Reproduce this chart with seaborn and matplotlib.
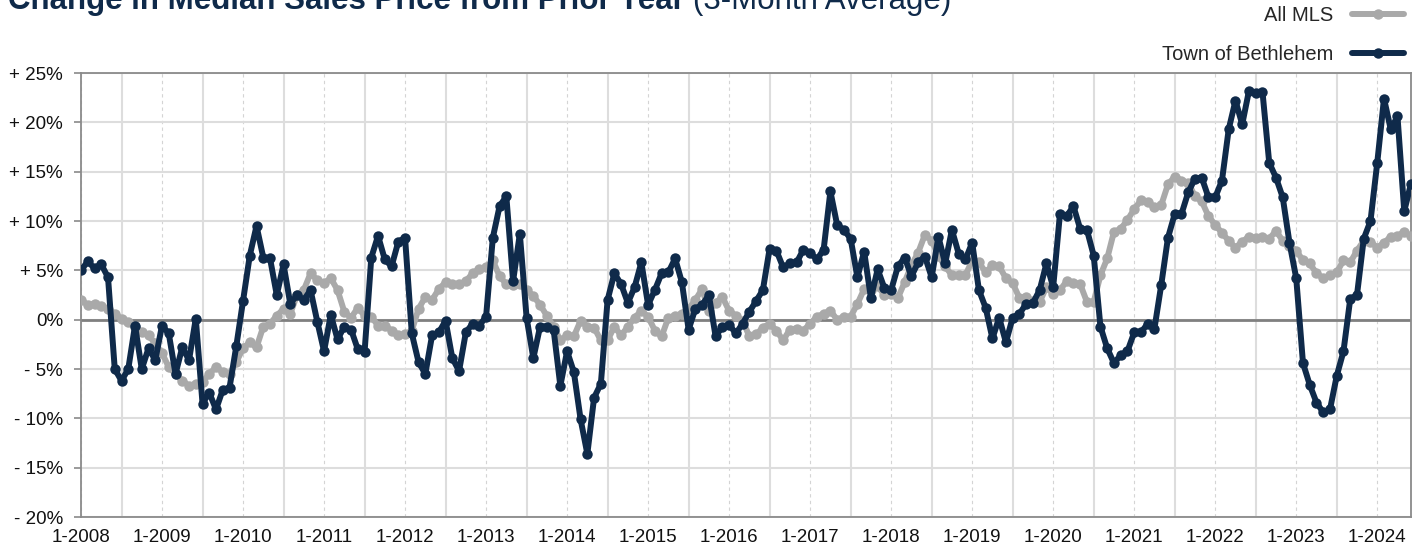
import numpy as np
import pandas as pd
import matplotlib
matplotlib.use("Agg")
import matplotlib.pyplot as plt
import seaborn as sns
from matplotlib.lines import Line2D

# monthly values, 1-2008 .. 6-2024 (3-month average, % change vs prior year)
town_of_bethlehem = [
    5.0, 5.9, 5.2, 5.6, 4.3, -5.0, -6.2, -5.0, -0.6, -5.0, -2.9, -4.1,
    -0.6, -1.4, -5.5, -2.8, -4.1, 0.1, -8.5, -7.4, -9.1, -7.1, -6.9, -2.7,
    1.9, 6.5, 9.5, 6.3, 6.2, 2.5, 5.6, 1.6, 2.5, 2.0, 3.0, -0.2,
    -3.2, 0.5, -2.0, -0.7, -1.0, -3.0, -3.3, 6.3, 8.5, 6.1, 5.4, 7.9,
    8.3, -1.4, -4.3, -5.5, -1.6, -1.3, -0.1, -3.9, -5.2, -1.3, -0.4, -0.6,
    0.3, 8.3, 11.5, 12.5, 3.9, 8.7, 0.2, -3.9, -0.7, -0.7, -1.0, -6.7,
    -3.2, -5.3, -10.1, -13.6, -7.9, -6.5, 2.0, 4.7, 3.6, 1.7, 3.3, 5.8,
    1.5, 3.0, 4.7, 4.8, 6.2, 3.8, -1.0, 1.1, 1.5, 2.5, -1.7, -0.7,
    -0.5, -1.4, -0.4, 0.8, 1.9, 3.0, 7.2, 7.0, 5.3, 5.7, 5.8, 7.1,
    6.8, 6.1, 7.1, 13.0, 9.6, 9.1, 8.2, 4.3, 6.9, 2.2, 5.1, 3.2,
    3.0, 5.4, 6.3, 4.4, 5.8, 6.4, 4.3, 8.4, 5.7, 9.1, 6.7, 6.1,
    7.8, 3.0, 1.2, -1.9, 0.2, -2.3, 0.2, 0.6, 1.6, 1.7, 3.0, 5.7,
    3.3, 10.7, 10.5, 11.5, 9.2, 9.1, 6.5, -0.7, -2.9, -4.4, -3.6, -3.2,
    -1.3, -1.3, -0.4, -0.9, 3.5, 8.3, 10.7, 10.7, 12.9, 14.3, 14.4, 12.4,
    12.4, 14.1, 19.3, 22.2, 19.8, 23.2, 23.0, 23.1, 15.9, 14.4, 12.4, 7.8,
    4.2, -4.4, -6.6, -8.4, -9.4, -9.1, -5.7, -3.2, 2.1, 2.5, 8.2, 10.0,
    15.9, 22.4, 19.3, 20.6, 11.0, 13.8,
]
all_mls = [
    2.0, 1.5, 1.6, 1.4, 1.1, 0.6, 0.1, -0.2, -0.7, -1.3, -1.6, -2.4,
    -3.4, -4.8, -5.5, -6.2, -6.7, -6.5, -6.3, -5.5, -4.8, -5.3, -5.5, -4.3,
    -2.9, -2.3, -2.8, -0.7, -0.4, 0.4, 1.1, 0.6, 2.5, 3.0, 4.7, 4.0,
    3.7, 4.2, 3.0, 0.8, 0.2, 1.2, 0.4, 0.3, -0.6, -0.6, -1.1, -1.6,
    -1.5, -1.1, 1.1, 2.3, 2.0, 3.1, 3.8, 3.6, 3.6, 3.9, 4.7, 5.1,
    5.3, 6.0, 4.4, 3.6, 3.5, 3.6, 3.0, 2.4, 1.5, 0.4, -0.7, -2.1,
    -1.6, -1.7, -0.1, -0.7, -0.8, -2.1, -2.1, -0.7, -1.6, -0.7, 0.2, 0.9,
    0.3, -1.1, -1.7, 0.2, 0.4, 0.6, 1.1, 2.0, 3.1, 0.9, 1.7, 2.3,
    0.9, 0.4, -0.1, -1.7, -1.5, -0.8, -0.4, -1.1, -2.1, -1.0, -0.9, -1.1,
    -0.4, 0.3, 0.6, 0.9, 0.0, 0.3, 0.3, 1.6, 3.1, 3.0, 3.4, 2.5,
    2.6, 2.2, 3.8, 5.5, 6.8, 8.6, 8.0, 6.5, 5.4, 4.5, 4.5, 4.5,
    6.0, 5.8, 4.8, 5.5, 5.4, 4.2, 3.7, 2.2, 2.3, 1.9, 1.8, 3.3,
    2.6, 3.0, 3.9, 3.7, 3.6, 1.8, 1.8, 4.5, 6.2, 8.9, 9.2, 10.1,
    11.2, 12.1, 11.9, 11.4, 11.6, 13.7, 14.5, 14.1, 13.9, 12.5, 12.0, 10.5,
    9.6, 8.8, 8.0, 7.3, 7.9, 8.4, 8.3, 8.4, 8.2, 9.0, 8.0, 7.5,
    7.0, 6.0, 5.7, 4.7, 4.2, 4.5, 4.8, 6.0, 5.8, 7.0, 8.0, 7.9,
    7.3, 7.8, 8.4, 8.5, 8.9, 8.5,
]
months = pd.period_range("2008-01", periods=len(all_mls), freq="M")
y_ticks = [25, 20, 15, 10, 5, 0, -5, -10, -15, -20]

NAVY = "#0f2a4a"
GREY = "#a9a9a9"
LW = 4.3
MS = 7.5

df = pd.DataFrame({
    "idx": np.concatenate([np.arange(len(months))] * 2),
    "value": all_mls + town_of_bethlehem,
    "series": ["All MLS"] * len(all_mls) + ["Town of Bethlehem"] * len(town_of_bethlehem),
})

sns.set_theme(style="white")
plt.rcParams["font.family"] = ["Liberation Sans", "DejaVu Sans"]

W, H = 1418, 551
fig = plt.figure(figsize=(W / 100, H / 100), dpi=100)
ax = fig.add_axes([81 / W, 1 - 517 / H, (1411 - 81) / W, (517 - 73) / H])

sns.lineplot(data=df, x="idx", y="value", hue="series",
             palette={"All MLS": GREY, "Town of Bethlehem": NAVY},
             marker="o", markersize=MS, markeredgewidth=0, linewidth=LW,
             legend=False, ax=ax, zorder=3)

ax.axhline(0, color="#808080", lw=2, zorder=2)

# axes / grid: labels on January, solid lines on July, dashed on January
n = len(months)
jan = [i for i, m in enumerate(months) if m.month == 1]
jul = [i for i, m in enumerate(months) if m.month == 7]
ax.set_xlim(0, n - 1)
ax.set_ylim(-20, 25)
ax.set_xticks(jan)
ax.set_xticklabels([f"{months[i].month}-{months[i].year}" for i in jan])
ax.set_xticks(jul, minor=True)
ax.set_yticks(y_ticks)
ax.set_yticklabels([f"+ {v}%" if v > 0 else ("0%" if v == 0 else f"- {abs(v)}%") for v in y_ticks])
ax.grid(which="major", axis="x", color="#d4d4d4", lw=0.8, linestyle=(0, (3, 3)))
ax.grid(which="minor", axis="x", color="#dddddd", lw=1.5)
ax.grid(which="major", axis="y", color="#dddddd", lw=1.5)
ax.set_axisbelow(True)
ax.set_xlabel("")
ax.set_ylabel("")
for s in ax.spines.values():
    s.set_color("#8a8a8a")
    s.set_linewidth(1.3)
ax.tick_params(axis="y", which="major", left=True, length=5, width=1.2, color="#8a8a8a",
               pad=8, labelsize=13.5, labelcolor="#111111")
ax.tick_params(axis="x", which="both", length=0, pad=9, labelsize=13.5, labelcolor="#111111")

# legend
handles = [Line2D([], [], color=GREY, lw=LW, marker="o", markersize=MS, markeredgewidth=0),
           Line2D([], [], color=NAVY, lw=LW, marker="o", markersize=MS, markeredgewidth=0)]
fig.legend(handles, ["All MLS", "Town of Bethlehem"], loc="upper right",
           bbox_to_anchor=(1408 / W, 1 - 2 / H), frameon=False, markerfirst=False,
           fontsize=14.5, handlelength=2.6, labelspacing=1.0, handletextpad=0.9,
           borderaxespad=0.1, borderpad=0.1)

# title (partly cut off at the top, as in the source image)
t1 = fig.text(8 / W, 1 - 9 / H, "Change in Median Sales Price from Prior Year",
              fontsize=22.5, fontweight="bold", color=NAVY, va="baseline", ha="left")
fig.canvas.draw()
bb = t1.get_window_extent(renderer=fig.canvas.get_renderer())
fig.text(bb.x1 / W + 8 / W, 1 - 9 / H, "(3-Month Average)",
         fontsize=22.5, color=NAVY, va="baseline", ha="left")

fig.savefig("out.png", dpi=100)
